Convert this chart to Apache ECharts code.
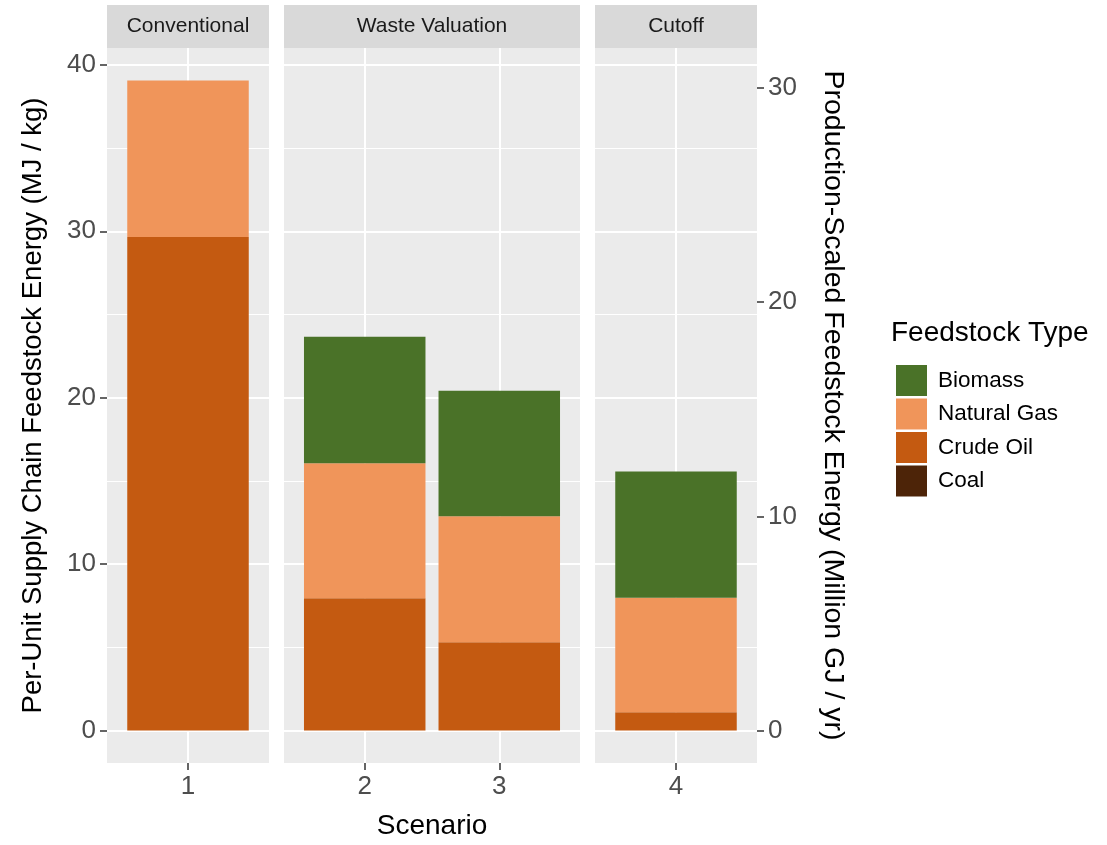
<!DOCTYPE html>
<html><head><meta charset="utf-8">
<script src="https://cdn.jsdelivr.net/npm/echarts@6/dist/echarts.min.js"></script>
<style>html,body{margin:0;padding:0;background:#fff}#c{width:1107px;height:845px}</style>
</head><body><div id="c"></div><script>
// ---- data ----
const scenarios = [1, 2, 3, 4];
const panelNames = ['Conventional', 'Waste Valuation', 'Cutoff'];
const scenarioPanel = [0, 1, 1, 2];
const legendOrder = ['Biomass', 'Natural Gas', 'Crude Oil', 'Coal'];
const biomass = [0, 7.6, 7.55, 7.6];
const naturalGas = [9.41, 8.11, 7.57, 6.87];
const crudeOil = [29.65, 7.95, 5.3, 1.1];
const coal = [0, 0, 0, 0];
const leftTicks = [0, 10, 20, 30, 40];
const leftMinorTicks = [5, 15, 25, 35];
const rightTicks = [0, 10, 20, 30];
const secondaryFactor = 0.777;
const leftTitle = 'Per-Unit Supply Chain Feedstock Energy (MJ / kg)';
const rightTitle = 'Production-Scaled Feedstock Energy (Million GJ / yr)';
const xTitle = 'Scenario';
const legendTitle = 'Feedstock Type';

// ---- styling / layout ----
const seriesValues = {'Biomass': biomass, 'Natural Gas': naturalGas, 'Crude Oil': crudeOil, 'Coal': coal};
const colors = {'Biomass': '#4A7228', 'Natural Gas': '#F0955A', 'Crude Oil': '#C45A11', 'Coal': '#4D2408'};
const stackOrder = ['Coal', 'Crude Oil', 'Natural Gas', 'Biomass'];
const FONT = '"Liberation Sans", Arial, Helvetica, sans-serif';
const panelLeft = [107, 284, 595];
const panelWidth = [162, 296, 162];
const gridTop = 48, gridHeight = 715;
const stripTop = 5, stripHeight = 43;

const totals = scenarios.map((s, i) => biomass[i] + naturalGas[i] + crudeOil[i] + coal[i]);
const maxTotal = Math.max(...totals);
const YMIN = -0.05 * maxTotal, YMAX = maxTotal * 1.05;
const unitPx = panelWidth[0] / 1.2;
const barWidth = 0.9 * unitPx;

const grids = [], xAxes = [], yAxes = [], series = [], graphics = [];
const mainYIndex = [];
panelNames.forEach((pn, p) => {
  const idx = scenarios.map((s, i) => i).filter(i => scenarioPanel[i] === p);
  const xs = idx.map(i => scenarios[i]);
  grids.push({left: panelLeft[p], width: panelWidth[p], top: gridTop, height: gridHeight,
    show: true, backgroundColor: '#EBEBEB', borderWidth: 0, containLabel: false, outerBoundsMode: 'none'});
  xAxes.push({type: 'value', gridIndex: p, min: xs[0] - 0.6, max: xs[xs.length - 1] + 0.6, position: 'bottom',
    axisLine: {show: false, onZero: false},
    axisTick: {show: true, customValues: xs, length: 7, lineStyle: {color: '#333', width: 1.5}},
    axisLabel: {show: true, customValues: xs, fontSize: 26, color: '#4D4D4D', margin: 11, fontFamily: FONT},
    splitLine: {show: true, lineStyle: {color: '#fff', width: 2}},
    name: p === 1 ? xTitle : '', nameLocation: 'middle', nameGap: 49,
    nameTextStyle: {fontSize: 28, color: '#000', fontFamily: FONT}});
  const first = p === 0;
  mainYIndex[p] = yAxes.length;
  yAxes.push({type: 'value', gridIndex: p, min: YMIN, max: YMAX, position: 'left',
    axisLine: {show: false, onZero: false},
    axisTick: {show: first, customValues: leftTicks, length: 7, lineStyle: {color: '#333', width: 1.5}},
    axisLabel: {show: first, customValues: leftTicks, fontSize: 26, color: '#4D4D4D', margin: 11, fontFamily: FONT},
    splitLine: {show: true, lineStyle: {color: '#fff', width: 2}},
    name: first ? leftTitle : '', nameLocation: 'middle', nameGap: 60,
    nameTextStyle: {fontSize: 27.5, color: '#000', fontFamily: FONT}});
  yAxes.push({type: 'value', gridIndex: p, min: YMIN, max: YMAX, position: 'left',
    axisLine: {show: false, onZero: false},
    axisTick: {show: false, customValues: leftMinorTicks},
    axisLabel: {show: false, customValues: leftMinorTicks},
    splitLine: {show: true, lineStyle: {color: '#fff', width: 1}}});
  if (p === panelNames.length - 1) {
    yAxes.push({type: 'value', gridIndex: p, min: YMIN * secondaryFactor, max: YMAX * secondaryFactor, position: 'right',
      axisLine: {show: false, onZero: false},
      axisTick: {show: true, customValues: rightTicks, length: 7, lineStyle: {color: '#333', width: 1.5}},
      axisLabel: {show: true, customValues: rightTicks, fontSize: 26, color: '#4D4D4D', margin: 11, fontFamily: FONT},
      splitLine: {show: false},
      name: rightTitle, nameLocation: 'middle', nameGap: 61, nameRotate: -90,
      nameTextStyle: {fontSize: 28.5, color: '#000', fontFamily: FONT}});
  }
  stackOrder.forEach(name => {
    // value first so that the stacked dimension is the y (value) dimension
    series.push({type: 'bar', name: name, xAxisIndex: p, yAxisIndex: mainYIndex[p], stack: 'p' + p,
      barWidth: barWidth, itemStyle: {color: colors[name]},
      encode: {x: 1, y: 0},
      data: idx.map(i => [seriesValues[name][i], scenarios[i]])});
  });
  graphics.push({type: 'rect', left: panelLeft[p], top: stripTop,
    shape: {width: panelWidth[p], height: stripHeight}, style: {fill: '#D9D9D9'}, z: 10});
  graphics.push({type: 'text', x: panelLeft[p] + panelWidth[p] / 2, y: stripTop + stripHeight / 2,
    style: {text: pn, fontSize: 21, fontFamily: FONT, fill: '#1A1A1A', align: 'center', verticalAlign: 'middle',
      textAlign: 'center', textVerticalAlign: 'middle'}, z: 11});
});
graphics.push({type: 'text', x: 891, y: 333,
  style: {text: legendTitle, fontSize: 28, fontFamily: FONT, fill: '#000', align: 'left', verticalAlign: 'middle',
    textAlign: 'left', textVerticalAlign: 'middle'}, z: 11});

const chart = echarts.init(document.getElementById('c'), null, {renderer: 'canvas'});
chart.setOption({
  animation: false,
  backgroundColor: '#fff',
  textStyle: {fontFamily: FONT},
  grid: grids, xAxis: xAxes, yAxis: yAxes, series: series,
  legend: {orient: 'vertical', left: 891, top: 360, itemWidth: 31, itemHeight: 31, itemGap: 2.5,
    icon: 'rect', data: legendOrder, selectedMode: false,
    textStyle: {fontSize: 22.5, color: '#000', fontFamily: FONT, padding: [0, 0, 0, 6]}},
  graphic: graphics
});
</script></body></html>
